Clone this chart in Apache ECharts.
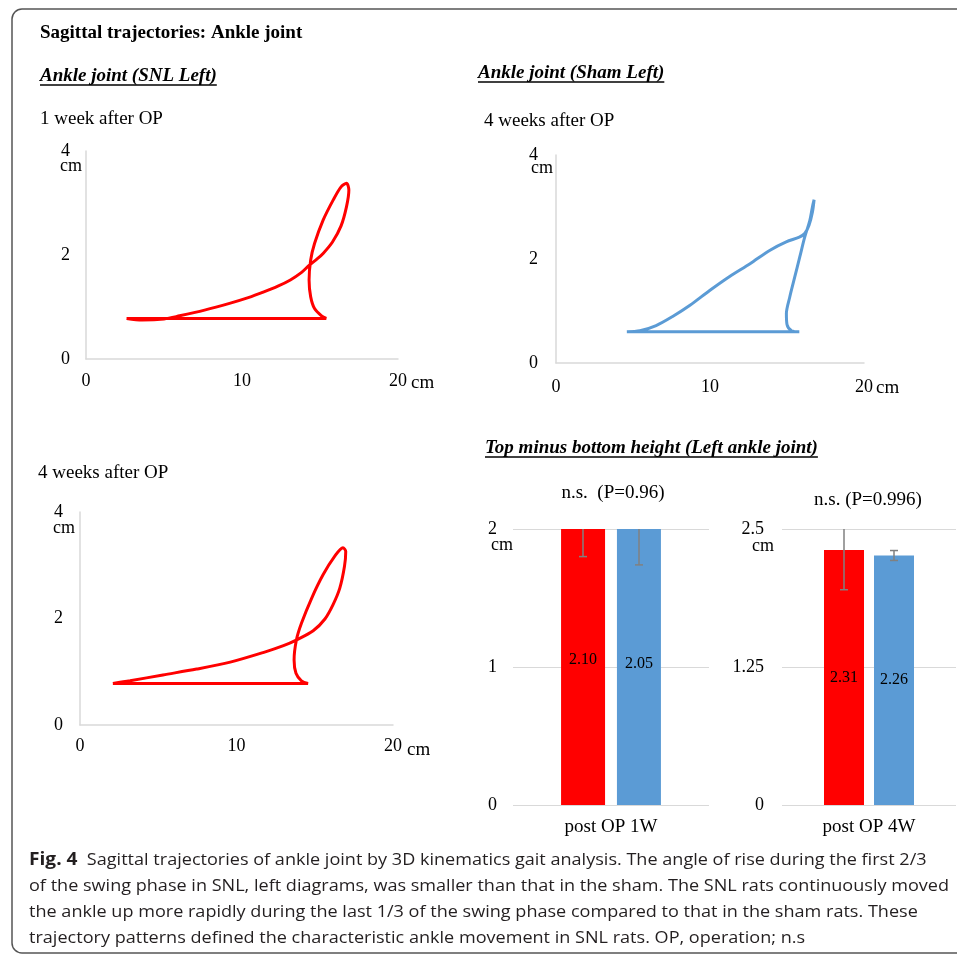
<!DOCTYPE html>
<html><head><meta charset="utf-8">
<script src="https://cdn.jsdelivr.net/npm/echarts/dist/echarts.min.js"></script>
<style>html,body{margin:0;padding:0;background:#fff}#c{width:957px;height:956px}</style>
</head><body><div id="c"></div><script>
// ---------- data ----------
const trajXTicks = [0, 10, 20];
const trajYTicks = [0, 2, 4];
// SNL left ankle, 1 week after OP  [x cm, y cm]
const snl1w = [[2.6,0.78],[3.6,0.75],[5.0,0.77],[6.0,0.83],[7.6,0.94],[9.2,1.07],[10.4,1.18],[11.4,1.29],[12.3,1.4],[13.1,1.52],[13.8,1.66],[14.3,1.8],[14.8,1.92],[15.2,2.03],[15.8,2.25],[16.35,2.56],[16.7,2.93],[16.85,3.25],[16.7,3.38],[16.35,3.31],[15.85,3.06],[15.2,2.67],[14.65,2.22],[14.4,1.9],[14.3,1.52],[14.4,1.2],[14.65,0.97],[15.1,0.83],[15.4,0.78],[9.0,0.78],[2.6,0.78]];
// Sham left ankle, 4 weeks after OP
const sham4w = [[4.6,0.6],[5.45,0.62],[6.5,0.72],[7.6,0.9],[8.7,1.11],[10.0,1.4],[11.3,1.67],[12.6,1.91],[13.9,2.17],[14.95,2.33],[15.8,2.42],[16.15,2.49],[16.43,2.65],[16.65,2.9],[16.76,3.14],[16.65,3.0],[16.48,2.74],[16.15,2.42],[15.83,2.04],[15.5,1.65],[15.18,1.27],[14.96,0.95],[15.0,0.74],[15.3,0.62],[15.8,0.6],[10.0,0.6],[4.6,0.6]];
// SNL left ankle, 4 weeks after OP
const snl4w = [[2.1,0.78],[3.2,0.83],[5.3,0.94],[7.45,1.05],[9.6,1.18],[11.7,1.36],[13.0,1.49],[13.85,1.6],[14.9,1.77],[15.65,1.99],[16.17,2.26],[16.6,2.57],[16.9,2.98],[16.98,3.26],[16.8,3.33],[16.28,3.17],[15.53,2.82],[14.8,2.38],[14.15,1.91],[13.83,1.6],[13.68,1.22],[13.8,0.97],[14.15,0.83],[14.57,0.78],[8.0,0.78],[2.1,0.78]];
// top minus bottom height
const barGroups = ['post OP 1W', 'post OP 4W'];
const snlMeans = [2.10, 2.31];
const shamMeans = [2.05, 2.26];
const snlSD = [0.30, 0.36];
const shamSD = [0.31, 0.045];
const bar1Ticks = [0, 1, 2];
const bar2Ticks = [0, 1.25, 2.5];

// ---------- styling helpers ----------
const SERIF = '"Liberation Serif","Times New Roman",serif';
const SANS = '"Open Sans","Noto Sans",sans-serif';
const RED = '#ff0000', BLUE = '#5b9bd5', GRID = '#d9d9d9';
const cv = document.createElement('canvas').getContext('2d');
function measure(font, t){ cv.font = font; return cv.measureText(t).width; }

const grids = [
  {left:86, top:151, width:312, height:208},
  {left:556, top:155, width:308, height:208},
  {left:80, top:512, width:313, height:213},
  {left:513, top:529, width:196, height:276},
  {left:782, top:529, width:174, height:276}
];

function trajX(gi, gap, padTop, margin){
  return {gridIndex: gi, type:'value', min: trajXTicks[0], max: trajXTicks[trajXTicks.length-1], interval: trajXTicks[1]-trajXTicks[0],
    axisLine:{show:true, lineStyle:{color:GRID, width:1.5}}, axisTick:{show:false}, splitLine:{show:false},
    axisLabel:{margin:margin, fontFamily:SERIF, fontSize:18, color:'#000'},
    name:'cm', nameLocation:'end', nameGap:gap, nameMoveOverlap:false,
    nameTextStyle:{fontFamily:SERIF, fontSize:19, color:'#000', align:'left', verticalAlign:'top', padding:[padTop,0,0,0]}};
}
function trajY(gi, gap, padRight, margin){
  return {gridIndex: gi, type:'value', min: trajYTicks[0], max: trajYTicks[trajYTicks.length-1], interval: trajYTicks[1]-trajYTicks[0],
    axisLine:{show:true, lineStyle:{color:GRID, width:1.5}}, axisTick:{show:false}, splitLine:{show:false},
    axisLabel:{margin:margin, fontFamily:SERIF, fontSize:18, color:'#000'},
    name:'cm', nameLocation:'end', nameGap:gap, nameMoveOverlap:false,
    nameTextStyle:{fontFamily:SERIF, fontSize:18, color:'#000', align:'right', verticalAlign:'middle', padding:[0,padRight,0,0]}};
}
function barY(gi, ticks, gap, padRight, margin){
  return {gridIndex: gi, type:'value', min: ticks[0], max: ticks[ticks.length-1], interval: ticks[1]-ticks[0],
    axisLine:{show:false}, axisTick:{show:false}, splitLine:{show:true, lineStyle:{color:GRID, width:1.2}},
    axisLabel:{margin:margin, fontFamily:SERIF, fontSize:18, color:'#000', formatter: v => String(v)},
    name:'cm', nameLocation:'end', nameGap:gap, nameMoveOverlap:false,
    nameTextStyle:{fontFamily:SERIF, fontSize:18, color:'#000', align:'right', verticalAlign:'middle', padding:[0,padRight,0,0]}};
}
function barX(gi, cat){
  return {gridIndex: gi, type:'category', data:[cat], axisLine:{show:false}, axisTick:{show:false},
    axisLabel:{margin:13, fontFamily:SERIF, fontSize:19, color:'#000'}};
}
function trajLine(idx, data, color){
  return {type:'line', xAxisIndex:idx, yAxisIndex:idx, data:data, symbol:'none', smooth:0.3,
    lineStyle:{color:color, width:3}, itemStyle:{color:color}};
}
// Excel centres the value label on the full (unclipped) bar; shift labels of clipped bars accordingly
function bar(idx, val, color, width, gap, ticks){
  const max = ticks[ticks.length-1];
  const pxPerUnit = grids[idx].height / (max - ticks[0]);
  const shift = val > max ? -(val - max) * pxPerUnit / 2 : 0;
  return {type:'bar', xAxisIndex:idx, yAxisIndex:idx, data:[val], barWidth:width, barGap:gap,
    itemStyle:{color:color},
    label:{show:true, position:'inside', offset:[0, shift], formatter: p => p.value.toFixed(2), fontFamily:SERIF, fontSize:16, color:'#000'}};
}
function errBar(idx, mean, sd, offset){
  return {type:'custom', xAxisIndex:idx, yAxisIndex:idx, data:[[0, mean - sd, mean + sd]], encode:{x:0, y:[1,2]}, z:5,
    renderItem: function(params, api){
      const a = api.coord([api.value(0), api.value(1)]);
      const b = api.coord([api.value(0), api.value(2)]);
      const cs = params.coordSys;
      const x = a[0] + offset;
      const st = {stroke:'#808080', lineWidth:1.5};
      const yTop = Math.max(b[1], cs.y), yBot = Math.min(a[1], cs.y + cs.height);
      const ch = [{type:'line', shape:{x1:x, y1:yBot, x2:x, y2:yTop}, style:st}];
      if (a[1] <= cs.y + cs.height) ch.push({type:'line', shape:{x1:x-4, y1:a[1], x2:x+4, y2:a[1]}, style:st});
      if (b[1] >= cs.y) ch.push({type:'line', shape:{x1:x-4, y1:b[1], x2:x+4, y2:b[1]}, style:st});
      return {type:'group', children:ch};
    }};
}

// ---------- texts ----------
const graphics = [];
graphics.push({type:'rect', shape:{x:12, y:9, width:970, height:944, r:10}, style:{fill:'none', stroke:'#555', lineWidth:1.5}, z:100});
function txt(t, x, y, font, opts){
  opts = opts || {};
  graphics.push({type:'text', x:x, y:y, z:100, style:{text:t, font:font, fill:opts.fill || '#000', textAlign:opts.align || 'left', textVerticalAlign:'middle'}});
  if (opts.underline){
    const w = measure(font, t);
    graphics.push({type:'line', z:100, shape:{x1:x, y1:y+9, x2:x+w, y2:y+9}, style:{stroke:'#000', lineWidth:1.4}});
  }
}
const BI = 'italic bold 19px ' + SERIF;
const N = '19px ' + SERIF;
txt('Sagittal trajectories: Ankle joint', 40, 33, 'bold 19px ' + SERIF);
txt('Ankle joint (SNL Left)', 40, 76, BI, {underline:true});
txt('1 week after OP', 40, 119, N);
txt('Ankle joint (Sham Left)', 478, 73, BI, {underline:true});
txt('4 weeks after OP', 484, 121, N);
txt('4 weeks after OP', 38, 473, N);
txt('Top minus bottom height (Left ankle joint)', 485, 448, BI, {underline:true});
txt('n.s.  (P=0.96)', 613, 493, N, {align:'center'});
txt('n.s. (P=0.996)', 868, 500, N, {align:'center'});

// caption
const capLines = [
  'Sagittal trajectories of ankle joint by 3D kinematics gait analysis. The angle of rise during the first 2/3',
  'of the swing phase in SNL, left diagrams, was smaller than that in the sham. The SNL rats continuously moved',
  'the ankle up more rapidly during the last 1/3 of the swing phase compared to that in the sham rats. These',
  'trajectory patterns defined the characteristic ankle movement in SNL rats. OP, operation; n.s'
];
const CF = '17px ' + SANS;
const capScale = 920 / measure(CF, capLines[1]);
capLines.forEach((l, i) => {
  const t = i === 0 ? '{b|Fig. 4}  ' + l : l;
  graphics.push({type:'text', x:29, y:860 + i*26, scaleX:capScale, z:100,
    style:{text:t, font:CF, fill:'#231f20', textAlign:'left', textVerticalAlign:'middle',
      rich:{b:{fontFamily:SANS, fontWeight:'bold', fontSize:18, fill:'#231f20'}}}});
});

const option = {
  animation:false,
  backgroundColor:'#fff',
  grid: grids,
  xAxis:[
    trajX(0, 13, 15, 13),
    trajX(1, 12, 16, 15),
    trajX(2, 14, 16, 12),
    barX(3, barGroups[0]),
    barX(4, barGroups[1])
  ],
  yAxis:[
    trajY(0, -15, 4, 16),
    trajY(1, -13, 3, 18),
    trajY(2, -16, 5, 17),
    barY(3, bar1Ticks, -16, 0, 16),
    barY(4, bar2Ticks, -17, 8, 18)
  ],
  series:[
    trajLine(0, snl1w, RED),
    trajLine(1, sham4w, BLUE),
    trajLine(2, snl4w, RED),
    bar(3, snlMeans[0], RED, 44, '27%', bar1Ticks),
    bar(3, shamMeans[0], BLUE, 44, '27%', bar1Ticks),
    errBar(3, snlMeans[0], snlSD[0], -28),
    errBar(3, shamMeans[0], shamSD[0], 28),
    bar(4, snlMeans[1], RED, 40, '25%', bar2Ticks),
    bar(4, shamMeans[1], BLUE, 40, '25%', bar2Ticks),
    errBar(4, snlMeans[1], snlSD[1], -25),
    errBar(4, shamMeans[1], shamSD[1], 25)
  ],
  graphic: graphics
};
const chart = echarts.init(document.getElementById('c'), null, {renderer:'canvas'});
chart.setOption(option);
</script></body></html>
